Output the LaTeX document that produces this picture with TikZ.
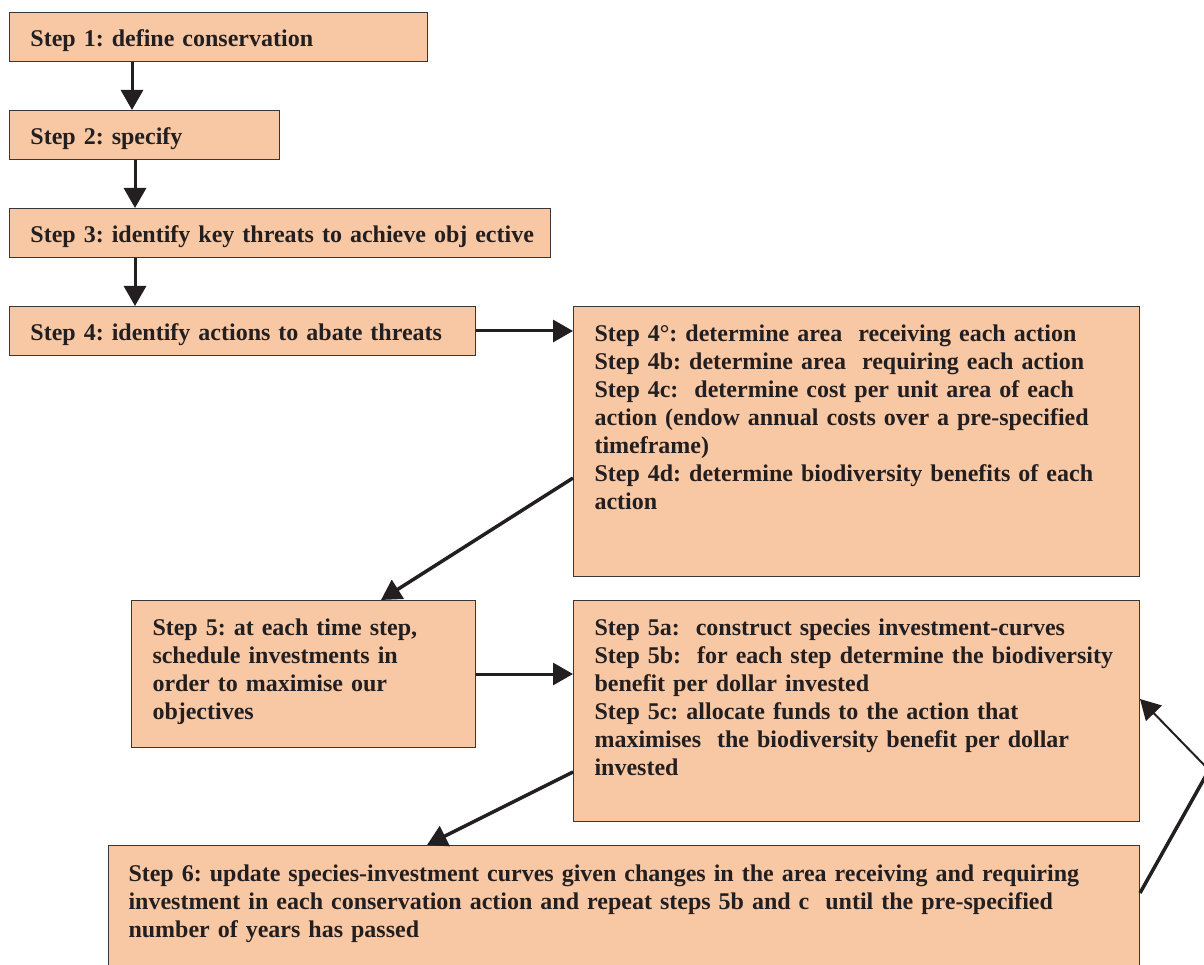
\documentclass[tikz,border=0pt]{standalone}
\usepackage{fontspec}
\setmainfont{Liberation Serif}
\usetikzlibrary{arrows.meta}
\definecolor{peach}{HTML}{F8C8A5}
\definecolor{ink}{HTML}{231F20}
\definecolor{edge}{HTML}{3A3536}
% lines of a box, set one under the other without rewrapping
\newcommand\steplines[1]{\begin{tabular}[t]{@{}l@{}}#1\end{tabular}}
\tikzset{
  stepbox/.style={draw=edge, line width=1pt, fill=peach, anchor=north west,
    inner xsep=21pt, inner ysep=0pt, align=left, text=ink,
    font=\fontsize{24}{28}\selectfont\bfseries\frenchspacing},
  flow/.style={draw=ink, line width=3pt, -{Triangle[length=20pt,width=22pt]}},
}
\begin{document}
\begin{tikzpicture}[x=1pt,y=-1pt]
\useasboundingbox (0,0) rectangle (1204,965);
\clip (0,0) rectangle (1204,965);

% left column of steps
\node[stepbox, text width=376pt, text height=34pt, text depth=15pt] (s1) at (9,12)
  {\steplines{Step 1: define conservation}};
\node[stepbox, text width=228pt, text height=34pt, text depth=15pt] (s2) at (9,110)
  {\steplines{Step 2: specify}};
\node[stepbox, text width=499pt, text height=34pt, text depth=15pt] (s3) at (9,208)
  {\steplines{Step 3: identify key threats to achieve obj ective}};
\node[stepbox, text width=424pt, text height=34pt, text depth=15pt] (s4) at (9,306)
  {\steplines{Step 4: identify actions to abate threats}};

% detail boxes
\node[stepbox, text width=524pt, text height=35pt, text depth=235pt] (s4a) at (573,306)
  {\steplines{Step 4°: determine area \ receiving each action\\
   Step 4b: determine area \ requiring each action\\
   Step 4c: \ determine cost per unit area of each\\
   action (endow annual costs over a pre-specified\\
   timeframe)\\
   Step 4d: determine biodiversity benefits of each\\
   action}};
\node[stepbox, text width=302pt, text height=35pt, text depth=112pt] (s5) at (131,600)
  {\steplines{Step 5: at each time step,\\
   schedule investments in\\
   order to maximise our\\
   objectives}};
\node[stepbox, text width=524pt, text height=35pt, text depth=186pt] (s5a) at (573,600)
  {\steplines{Step 5a: \ construct species investment-curves\\
   Step 5b: \ for each step determine the biodiversity\\
   benefit per dollar invested\\
   Step 5c: allocate funds to the action that\\
   maximises \ the biodiversity benefit per dollar\\
   invested}};
\node[stepbox, inner xsep=20pt, text width=991pt, text height=36pt, text depth=110pt] (s6) at (108,845)
  {\steplines{Step 6: update species-investment curves given changes in the area receiving and requiring\\
   investment in each conservation action and repeat steps 5b and c \ until the pre-specified\\
   number of years has passed}};

% connectors
\draw[flow] ([xshift=123pt]s1.south west) -- ([xshift=123pt]s2.north west);
\draw[flow] ([xshift=126pt]s2.south west) -- ([xshift=126pt]s3.north west);
\draw[flow] ([xshift=126pt]s3.south west) -- ([xshift=126pt]s4.north west);
\draw[flow] (s4.east) -- (s4a.west |- s4.east);
\draw[flow, line width=3.5pt] ([yshift=-172pt]s4a.north west) -- ([xshift=250pt]s5.north west);
\draw[flow] (s5.east) -- (s5a.west |- s5.east);
\draw[flow, line width=3.5pt] ([yshift=-172pt]s5a.north west) -- ([xshift=319pt]s6.north west);

% repeat loop back to step 5
\coordinate (apex) at (1209,770);
\draw[draw=ink, line width=3.5pt] ([yshift=-48pt]s6.north east) -- (apex);
\draw[flow, line width=2pt] (apex) -- ([yshift=-99pt]s5a.north east);
\end{tikzpicture}
\end{document}
